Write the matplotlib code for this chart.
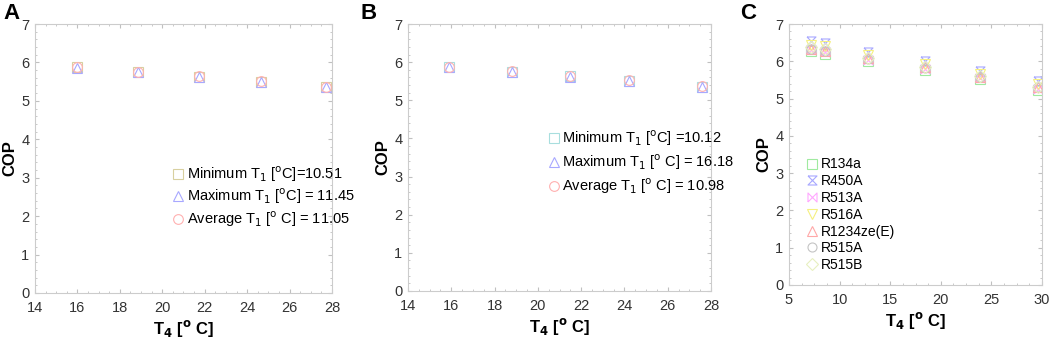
import numpy as np
import matplotlib
matplotlib.use("Agg")
import matplotlib.pyplot as plt
from matplotlib.path import Path
from matplotlib.ticker import AutoMinorLocator, MultipleLocator

plt.rcParams['font.family'] = ['Liberation Sans', 'DejaVu Sans']

# panel A
tA = [16.0, 18.85, 21.75, 24.65, 27.7]
copA_min = [5.87, 5.75, 5.63, 5.50, 5.36]
copA_max = [5.86, 5.74, 5.62, 5.49, 5.35]
copA_avg = [5.88, 5.76, 5.64, 5.51, 5.37]
labA = ['Minimum T$_1$ [$^{\\rm o}$C]=10.51',
        'Maximum T$_1$ [$^{\\rm o}$C] = 11.45',
        'Average T$_1$ [$^{\\rm o}$ C] = 11.05']

# panel B
tB = [15.9, 18.8, 21.5, 24.2, 27.6]
copB_min = [5.87, 5.75, 5.63, 5.51, 5.36]
copB_max = [5.86, 5.74, 5.62, 5.50, 5.35]
copB_avg = [5.88, 5.76, 5.64, 5.52, 5.37]
labB = ['Minimum T$_1$ [$^{\\rm o}$C] =10.12',
        'Maximum T$_1$ [$^{\\rm o}$ C] = 16.18',
        'Average T$_1$ [$^{\\rm o}$ C] = 10.98']

# panel C
tC = [7.2, 8.6, 12.8, 18.4, 23.9, 29.6]
refrigerants = ['R134a', 'R450A', 'R513A', 'R516A', 'R1234ze(E)', 'R515A', 'R515B']
copC = {
    'R134a':      [6.28, 6.20, 6.00, 5.76, 5.52, 5.24],
    'R450A':      [6.55, 6.48, 6.26, 6.00, 5.74, 5.46],
    'R513A':      [6.30, 6.24, 6.04, 5.80, 5.55, 5.27],
    'R516A':      [6.45, 6.40, 6.16, 5.92, 5.66, 5.38],
    'R1234ze(E)': [6.34, 6.28, 6.08, 5.84, 5.58, 5.30],
    'R515A':      [6.34, 6.27, 6.07, 5.83, 5.58, 5.30],
    'R515B':      [6.38, 6.32, 6.10, 5.86, 5.61, 5.32],
}

hourglass = Path([(-1, 1), (1, 1), (-1, -1), (1, -1), (-1, 1)])
bowtie = Path([(-1, -1), (-1, 1), (1, -1), (1, 1), (-1, -1)])
styleC = {
    'R134a': ('s', '#a0eaa0'),
    'R450A': (hourglass, '#a8a8ff'),
    'R513A': (bowtie, '#ffa8ff'),
    'R516A': ('v', '#f5f080'),
    'R1234ze(E)': ('^', '#ffa8a8'),
    'R515A': ('o', '#c4c4c4'),
    'R515B': ('D', '#e8f0c0'),
}

W, H = 1052, 339
fig = plt.figure(figsize=(W / 100, H / 100), dpi=100)


def px_axes(x0, y0, x1, y1):
    return fig.add_axes([x0 / W, 1 - y1 / H, (x1 - x0) / W, (y1 - y0) / H])


def style(ax, xlim, xstep):
    ax.set_xlim(*xlim)
    ax.set_ylim(0, 7)
    ax.xaxis.set_major_locator(MultipleLocator(xstep))
    ax.yaxis.set_major_locator(MultipleLocator(1))
    ax.xaxis.set_minor_locator(AutoMinorLocator(4))
    ax.yaxis.set_minor_locator(AutoMinorLocator(5))
    for s in ax.spines.values():
        s.set_color('#cccccc')
        s.set_linewidth(0.8)
    ax.tick_params(which='both', direction='in', top=True, right=True,
                   color='#c0c0c0', labelsize=10.5, labelcolor='#333333')
    ax.tick_params(which='major', length=3)
    ax.tick_params(which='minor', length=1.5)
    ax.tick_params(axis='x', pad=6)
    ax.tick_params(axis='y', pad=4)
    ax.set_xlabel('T$_\\mathbf{4}$ [$^\\mathbf{o}$ C]', fontsize=12, fontweight='bold', labelpad=2)
    ax.set_ylabel('COP', fontsize=12, fontweight='bold', labelpad=3)


ms = 7
# A
axA = px_axes(35, 24, 332, 293)
axA.plot(tA, copA_min, 's', mfc='none', mec='#d8d0a0', ms=ms, mew=0.8, label=labA[0])
axA.plot(tA, copA_max, '^', mfc='none', mec='#a8a8ff', ms=ms, mew=0.8, label=labA[1])
axA.plot(tA, copA_avg, 'o', mfc='none', mec='#ffb0b0', ms=ms, mew=0.8, label=labA[2])
style(axA, (14, 28), 2)
axA.legend(loc='upper left', bbox_to_anchor=(0.435, 0.50), frameon=False, fontsize=10.5,
           handletextpad=0.05, handlelength=1.1, borderaxespad=0, labelspacing=0.2)

# B
axB = px_axes(408, 24, 711, 291)
axB.plot(tB, copB_min, 's', mfc='none', mec='#a8dede', ms=ms, mew=0.8, label=labB[0])
axB.plot(tB, copB_max, '^', mfc='none', mec='#a8a8ff', ms=ms, mew=0.8, label=labB[1])
axB.plot(tB, copB_avg, 'o', mfc='none', mec='#ffb0b0', ms=ms, mew=0.8, label=labB[2])
style(axB, (14, 28), 2)
axB.legend(loc='upper left', bbox_to_anchor=(0.435, 0.63), frameon=False, fontsize=10.5,
           handletextpad=0.05, handlelength=1.1, borderaxespad=0, labelspacing=0.3)

# C
axC = px_axes(789, 24, 1042, 285)
for r in refrigerants:
    m, c = styleC[r]
    axC.plot(tC, copC[r], linestyle='none', marker=m, mfc='none', mec=c, ms=6.5, mew=0.8, label=r)
style(axC, (5, 30), 5)
axC.legend(loc='upper left', bbox_to_anchor=(0.04, 0.51), frameon=False, fontsize=10,
           handletextpad=0.05, handlelength=1.1, borderaxespad=0, labelspacing=0.2)

for x, letter in [(3, 'A'), (360, 'B'), (740, 'C')]:
    fig.text(x / W, 1 - 3 / H, letter, fontsize=16, fontweight='bold', va='top', ha='left')

fig.savefig('out.png', dpi=100)
